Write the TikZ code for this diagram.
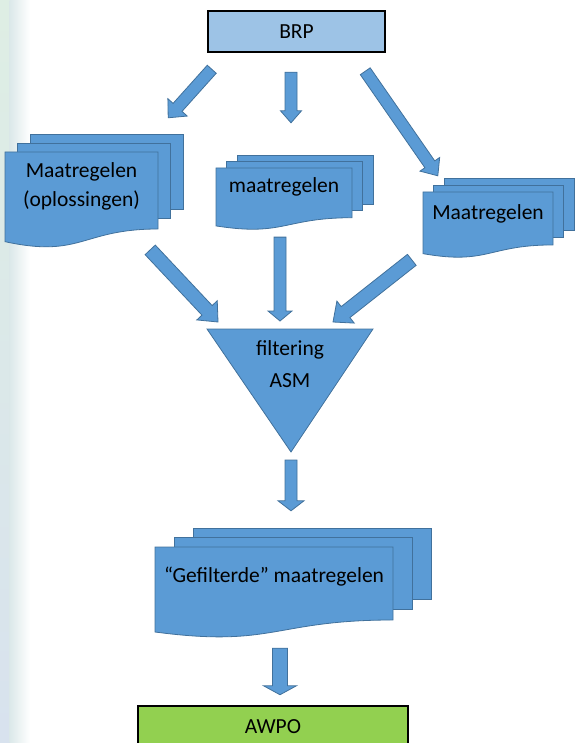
\documentclass[tikz,border=0pt]{standalone}
\usepackage{fontspec}
\setmainfont{Carlito}
\usetikzlibrary{calc,fit}

\definecolor{docblue}{RGB}{91,155,213}
\definecolor{docline}{RGB}{65,113,156}
\definecolor{brpblue}{RGB}{157,195,230}
\definecolor{awpogreen}{RGB}{146,208,80}
\definecolor{edgemint}{RGB}{222,238,228}
\definecolor{edgeblue}{RGB}{216,226,238}

% stack of three sheets: name, x, y, width, height, dx, dy, text height, text
\newcommand\docstack[9]{%
  \filldraw[sheet] ({#2+2*#6},{#3-2*#7}) rectangle ++(#4,{.79*#5});
  \filldraw[sheet] ({#2+#6},{#3-#7}) rectangle ++(#4,{.79*#5});
  \filldraw[sheet] (#2,#3) -- ({#2+#4},#3) -- ({#2+#4},{#3+.802*#5})
    .. controls ({#2+#4/2},{#3+.802*#5}) and ({#2+#4/2},{#3+1.108*#5}) .. (#2,{#3+.934*#5}) -- cycle;
  \path ({#2},{#3-2*#7}) coordinate (#1-a) ({#2+#4+2*#6},{#3+.934*#5}) coordinate (#1-b);
  \node[fit=(#1-a)(#1-b),inner sep=0pt] (#1) {};
  \node[doctext] (#1-txt) at ({#2+#4/2},{#3+#8*#5}) {#9};}

% block arrow: from, to, half shaft, half head, head length
\newcommand\blockarrow[5]{%
  \path #1 coordinate (ba-s) #2 coordinate (ba-e);
  \path ($(ba-e)!#5!(ba-s)$) coordinate (ba-h);
  \filldraw[sheet] ($(ba-s)!#3!90:(ba-e)$) -- ($(ba-h)!#3!90:(ba-e)$) -- ($(ba-h)!#4!90:(ba-e)$)
    -- (ba-e) -- ($(ba-h)!#4!-90:(ba-e)$) -- ($(ba-h)!#3!-90:(ba-e)$) -- ($(ba-s)!#3!-90:(ba-e)$) -- cycle;}

\begin{document}
\begin{tikzpicture}[
  x=1pt, y=-1pt,
  sheet/.style={fill=docblue,draw=docline,line width=.8pt},
  doctext/.style={font=\fontsize{21.5}{29}\selectfont,align=center,inner sep=0pt},
  box/.style={draw=black,line width=2.5pt,font=\fontsize{21.5}{29}\selectfont,inner sep=0pt}]
\useasboundingbox (0,0) rectangle (576,743);
\clip (0,0) rectangle (576,743);
\fill[top color=edgemint,bottom color=edgeblue] (0,0) rectangle (10,743);
\fill[left color=edgemint!50!edgeblue,right color=white] (9.5,0) rectangle (30,743);

\node[box,fill=brpblue,minimum width=177pt,minimum height=41pt] (brp) at (296.5,31.5) {BRP};

\docstack{ml}{5}{152}{153}{96}{12.5}{9}{.36}{Maatregelen\\(oplossingen)}
\docstack{mm}{216}{168}{136}{62}{10.5}{6.5}{.31}{maatregelen}
\docstack{mr}{423}{192}{130}{66}{10.5}{7}{.33}{Maatregelen}

\path (207,329) coordinate (tl) (373,329) coordinate (tr) (291,452) coordinate (tb);
\filldraw[sheet] (tl) -- (tr) -- (tb) -- cycle;
\node[doctext,font=\fontsize{21.5}{32}\selectfont] (filt) at (290,364) {filtering\\ASM};

\docstack{gf}{155}{547}{238}{91}{19}{9.5}{.33}{“Gefilterde” maatregelen}

\node[box,fill=awpogreen,minimum width=270pt,minimum height=42pt] (awpo) at (273,727) {AWPO};

\blockarrow{($(brp.south west)+(5,16)$)}{($(ml.north east)+(-15,-16)$)}{6pt}{13pt}{14pt}
\blockarrow{($(brp.south)+(-5.5,19)$)}{($(mm.north)+(-3.5,-32)$)}{6pt}{10.5pt}{12pt}
\blockarrow{($(brp.south east)+(-21,18)$)}{($(mr.north west)+(15,-2)$)}{6pt}{12pt}{14pt}
\blockarrow{($(ml.south east)+(-33,8)$)}{($(tl)+(11,-7)$)}{7pt}{14pt}{16pt}
\blockarrow{($(mm.south)+(-14.5,11)$)}{($(tl)+(73,-8)$)}{6pt}{12pt}{10pt}
\blockarrow{($(mr.south west)+(-11,6)$)}{($(tr)+(-40,-7)$)}{7pt}{14pt}{16pt}
\blockarrow{($(tb)+(0,8)$)}{($(gf.north)+(-2,-17)$)}{6pt}{13pt}{10pt}
\blockarrow{($(gf.south)+(-13,16)$)}{($(awpo.north)+(7,-10)$)}{7.5pt}{16.5pt}{9pt}
\end{tikzpicture}
\end{document}
